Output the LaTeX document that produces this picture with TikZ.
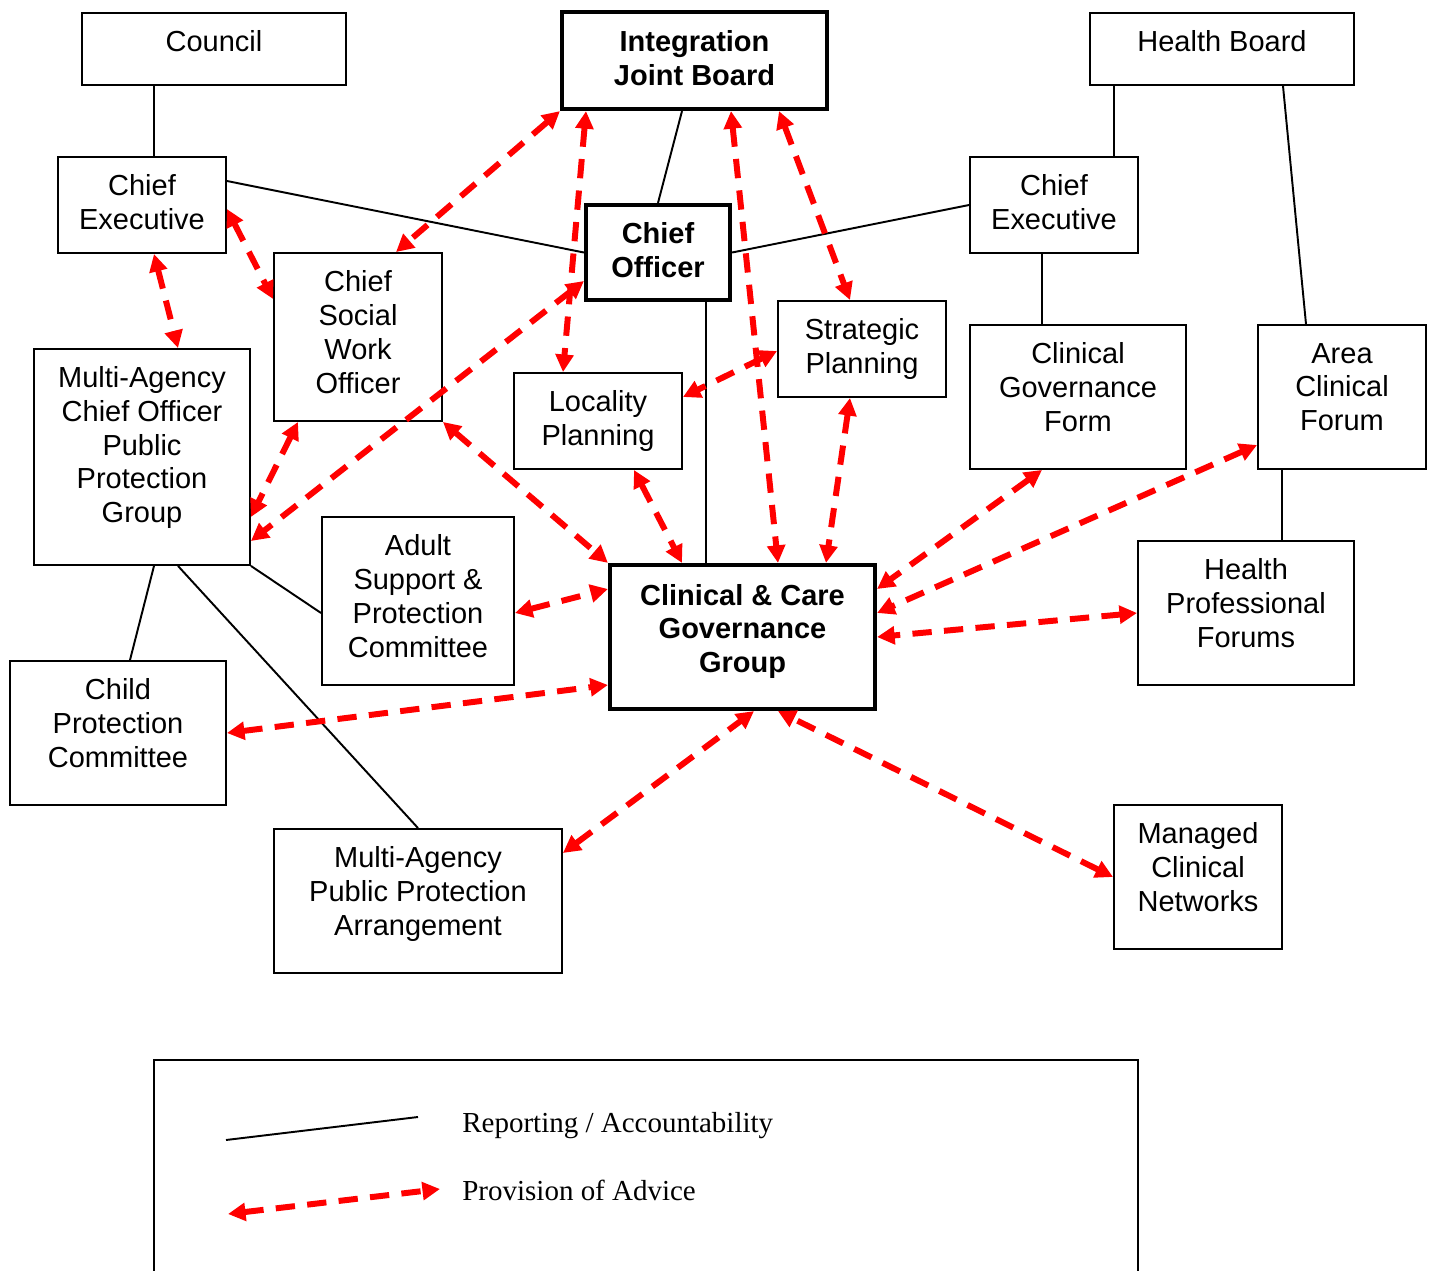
\documentclass[tikz,border=0pt]{standalone}
\usepackage{fontspec}
\setmainfont{Liberation Serif}
\setsansfont{Liberation Sans}
\usetikzlibrary{arrows.meta,calc}
\definecolor{cgink}{HTML}{000000}
\definecolor{cgadvice}{HTML}{FF0000}
\tikzset{
  every picture/.style={font=\sffamily\fontsize{16.5}{19.3}\selectfont,text=cgink},
  unit/.style={rectangle,draw=cgink,fill=white,line width=1.1pt,align=center,
    inner sep=0pt,execute at end node={\rule[-#1]{0pt}{#1}}},
  unit/.default=8pt,
  lead/.style={unit=#1,line width=2.4pt,font=\sffamily\bfseries\fontsize{16.5}{19.3}\selectfont},
  lead/.default=8pt,
  report/.style={draw=cgink,line width=1.1pt},
  advice/.style={draw=cgadvice,line width=3.4pt,dash pattern=on 11pt off 7pt,
    {Triangle[length=10pt,width=10pt]}-{Triangle[length=10pt,width=10pt]}},
  legend text/.style={font=\rmfamily\fontsize{16.5}{19.3}\selectfont,anchor=west,inner sep=0pt},
}

\begin{document}
\begin{tikzpicture}[x=0.02cm,y=-0.02cm]
  \useasboundingbox (0,0) rectangle (1434,1271);
  \node[unit=9.1pt,minimum width=5.28cm,minimum height=1.44cm] (council) at (214,49) {Council};
  \node[lead=2.85pt,minimum width=5.30cm,minimum height=1.94cm] (ijb) at (694.5,60.5) {Integration\\Joint Board};
  \node[unit=9.1pt,minimum width=5.28cm,minimum height=1.44cm] (hb) at (1222,49) {Health Board};
  \node[unit=3.4pt,minimum width=3.36cm,minimum height=1.92cm] (ceL) at (142,205) {Chief\\Executive};
  \node[lead=2.85pt,minimum width=2.88cm,minimum height=1.90cm] (co) at (658,252.5) {Chief\\Officer};
  \node[unit=3.4pt,minimum width=3.36cm,minimum height=1.92cm] (ceR) at (1054,205) {Chief\\Executive};
  \node[unit=5.7pt,minimum width=3.36cm,minimum height=3.36cm] (cswo) at (358,337) {Chief\\Social\\Work\\Officer};
  \node[unit=3.4pt,minimum width=3.36cm,minimum height=1.92cm] (sp) at (862,349) {Strategic\\Planning};
  \node[unit=3.4pt,minimum width=3.36cm,minimum height=1.92cm] (lp) at (598,421) {Locality\\Planning};
  \node[unit=11.4pt,minimum width=4.32cm,minimum height=2.88cm] (cgf) at (1078,397) {Clinical\\Governance\\Form};
  \node[unit=11.4pt,minimum width=3.36cm,minimum height=2.88cm] (acf) at (1342,397) {Area\\Clinical\\Forum};
  \node[unit=14.2pt,minimum width=4.32cm,minimum height=4.32cm] (mac) at (142,457) {Multi-Agency\\Chief Officer\\Public\\Protection\\Group};
  \node[unit=5.7pt,minimum width=3.84cm,minimum height=3.36cm] (aspc) at (418,601) {Adult\\Support \&\\Protection\\Committee};
  \node[lead=9.7pt,minimum width=5.30cm,minimum height=2.88cm] (ccgg) at (742.5,637) {Clinical \& Care\\Governance\\Group};
  \node[unit=11.4pt,minimum width=4.32cm,minimum height=2.88cm] (hpf) at (1246,613) {Health\\Professional\\Forums};
  \node[unit=11.4pt,minimum width=4.32cm,minimum height=2.88cm] (cpc) at (118,733) {Child\\Protection\\Committee};
  \node[unit=11.4pt,minimum width=5.76cm,minimum height=2.88cm] (mappa) at (418,901) {Multi-Agency\\Public Protection\\Arrangement};
  \node[unit=11.4pt,minimum width=3.36cm,minimum height=2.88cm] (mcn) at (1198,877) {Managed\\Clinical\\Networks};
  % reporting lines
  \draw[report] (council.south -| 154,0) -- (ceL.north -| 154,0);
  \draw[report] (ceL.east |- 0,181) -- (co.west);
  \draw[report] (ijb.south -| 682,0) -- (co.north);
  \draw[report] (co.east) -- (ceR.west);
  \draw[report] (hb.south -| 1114,0) -- (ceR.north -| 1114,0);
  \draw[report] (hb.south -| 1283,0) -- (acf.north -| 1306,0);
  \draw[report] (ceR.south -| 1042,0) -- (cgf.north -| 1042,0);
  \draw[report] (co.south -| 706,0) -- (ccgg.north -| 706,0);
  \draw[report] (acf.south -| 1282,0) -- (hpf.north -| 1282,0);
  \draw[report] (mac.south east) -- (aspc.west |- 0,613);
  \draw[report] (mac.south -| 154,0) -- (cpc.north -| 130,0);
  \draw[report] (mac.south -| 178,0) -- (mappa.north);
  % advice lines
  \draw[advice] (ijb.south west) -- (cswo.north -| 396,0);
  \draw[advice] (ijb.south -| 586,0) -- (lp.north -| 563,0);
  \draw[advice] (ijb.south -| 731,0) -- (ccgg.north -| 778,0);
  \draw[advice] (ijb.south -| 779,0) -- (sp.north -| 850,0);
  \draw[advice] (ceL.east |- 0,209) -- (cswo.west |- 0,299);
  \draw[advice] (ceL.south -| 154,0) -- (mac.north -| 178,0);
  \draw[advice] (co.west |- 0,281) -- (mac.east |- 0,541);
  \draw[advice] (cswo.south -| 298,0) -- (mac.east |- 0,517);
  \draw[advice] (cswo.south east) -- (ccgg.north west);
  \draw[advice] (sp.west |- 0,351) -- (lp.east |- 0,397);
  \draw[advice] (lp.south -| 634,0) -- (ccgg.north -| 682,0);
  \draw[advice] (sp.south -| 850,0) -- (ccgg.north -| 826,0);
  \draw[advice] (cgf.south -| 1042,0) -- (ccgg.east |- 0,589);
  \draw[advice] (acf.west |- 0,445) -- (ccgg.east |- 0,613);
  \draw[advice] (hpf.west |- 0,613) -- (ccgg.east |- 0,637);
  \draw[advice] (aspc.east |- 0,613) -- (ccgg.west |- 0,589);
  \draw[advice] (cpc.east |- 0,733) -- (ccgg.west |- 0,685);
  \draw[advice] (mappa.east |- 0,853) -- (ccgg.south -| 754,0);
  \draw[advice] (mcn.west |- 0,877) -- (ccgg.south -| 778,0);
  % legend
  \node[rectangle,draw=cgink,line width=1.1pt,minimum width=19.68cm,minimum height=4.6cm] (legend) at (646,1175) {};
  \coordinate (repA) at (226,1140);
  \coordinate (repB) at (418,1117);
  \coordinate (advA) at (228,1214);
  \coordinate (advB) at (440,1189);
  \draw[report] (repA) -- (repB);
  \draw[advice] (advA) -- (advB);
  \node[legend text] (repText) at (462,1126) {Reporting / Accountability};
  \node[legend text] (advText) at (462,1190) {Provision of Advice};
\end{tikzpicture}
\end{document}
